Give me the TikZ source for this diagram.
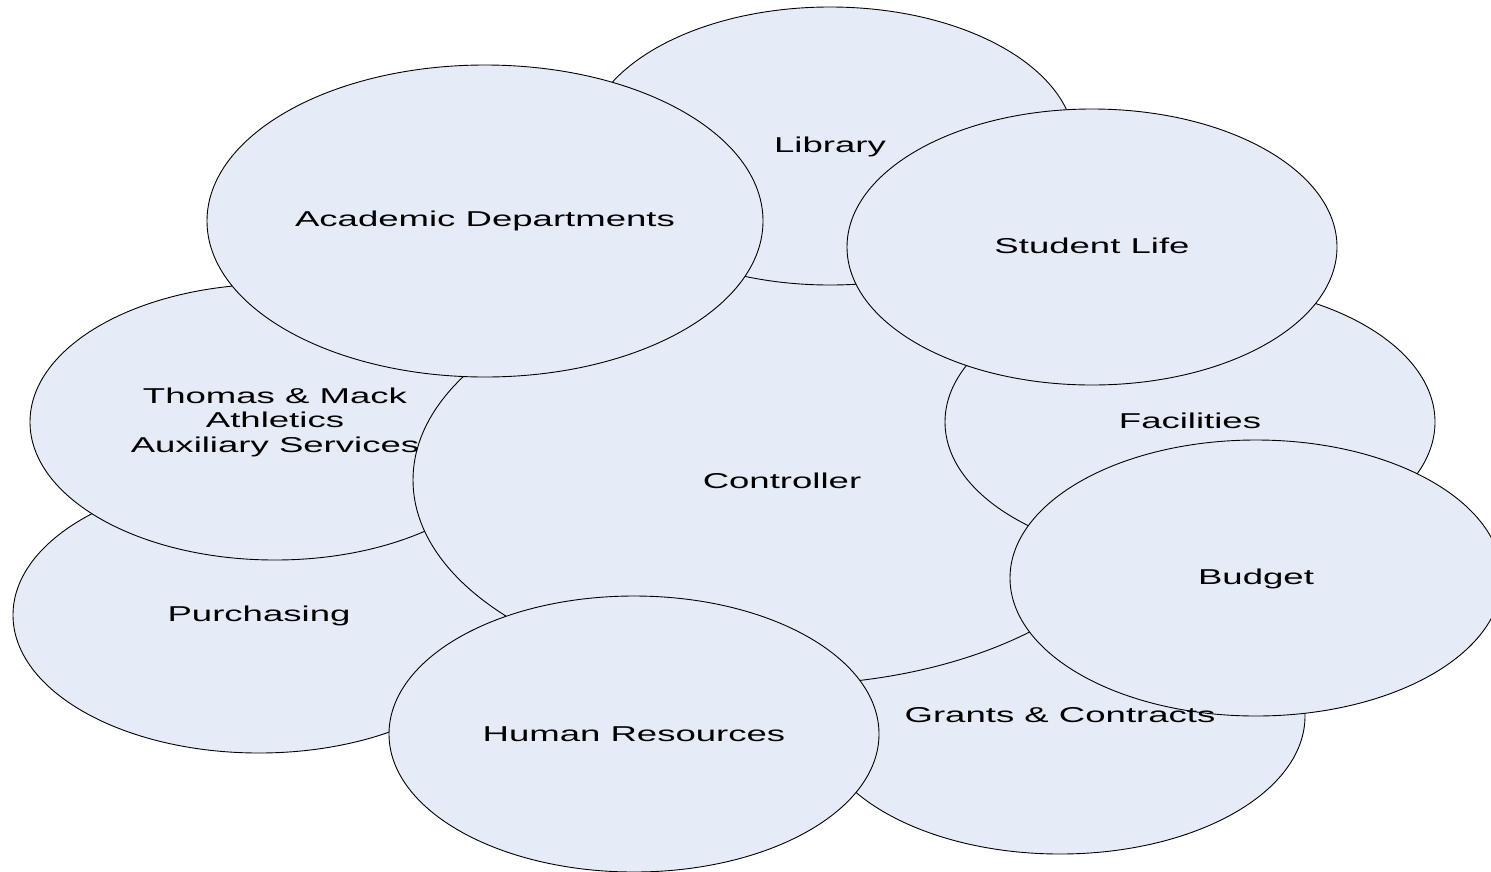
\documentclass[tikz,border=0pt]{standalone}
\usepackage{fontspec}
\usetikzlibrary{shapes.geometric}
\newfontfamily\lblfont[FakeStretch=1.7]{Liberation Sans}
\definecolor{bubble}{RGB}{230,236,247}
\tikzset{
  bubble/.style args={#1/#2}{ellipse, draw=black, line width=0.9pt, fill=bubble,
    inner sep=0pt, minimum width=#1, minimum height=#2},
  lbl/.style={font=\lblfont\fontsize{21.5}{24.5}\selectfont, align=center, inner sep=0pt},
}
\begin{document}
\begin{tikzpicture}[x=1pt, y=-1pt]
  \useasboundingbox (0,0) rectangle (1491,871);
  \clip (0,0) rectangle (1491,871);
  % bubbles, back to front
  \node[bubble=492pt/276pt] (purch) at (259,615) {};
  \node[bubble=490pt/276pt] (tmack) at (275,422) {};
  \node[bubble=490pt/276pt] (grant) at (1060,716) {};
  \node[bubble=738pt/410pt] (ctrl)  at (782,480) {};
  \node[bubble=490pt/278pt] (lib)   at (830,146) {};
  \node[bubble=556pt/312pt] (acad)  at (485,221) {};
  \node[bubble=490pt/276pt] (fac)   at (1190,422) {};
  \node[bubble=490pt/276pt] (slife) at (1092,247) {};
  \node[bubble=492pt/276pt] (budg)  at (1256,578) {};
  \node[bubble=490pt/276pt] (hr)    at (634,734) {};
  % labels (a positive yshift moves a label up)
  \node[lbl] (tpurch) at ([yshift=-1pt]purch.center) {Purchasing};
  \node[lbl] (ttmack) at (tmack.center) {Thomas \& Mack\\Athletics\\Auxiliary Services};
  \node[lbl] (tgrant) at ([yshift=1pt]grant.center) {Grants \& Contracts};
  \node[lbl] (tctrl)  at ([yshift=-1pt]ctrl.center) {Controller};
  \node[lbl] (tlib)   at ([yshift=-1pt]lib.center) {Library};
  \node[lbl] (tacad)  at (acad.center) {Academic Departments};
  \node[lbl] (tfac)   at ([yshift=1pt]fac.center) {Facilities};
  \node[lbl] (tslife) at ([yshift=1pt]slife.center) {Student Life};
  \node[lbl] (tbudg)  at ([yshift=-1pt]budg.center) {Budget};
  \node[lbl] (thr)    at (hr.center) {Human Resources};
\end{tikzpicture}
\end{document}
